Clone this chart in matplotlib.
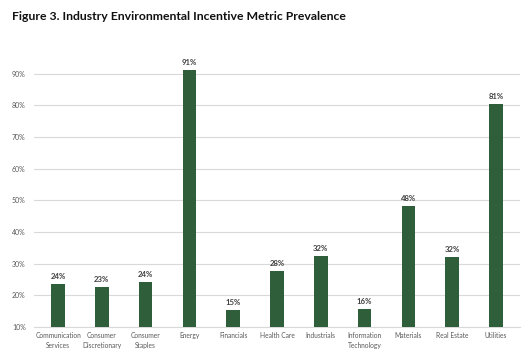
import matplotlib
matplotlib.use("Agg")
import matplotlib.pyplot as plt
import numpy as np
from matplotlib.ticker import PercentFormatter

categories = ["Communication\nServices", "Consumer\nDiscretionary", "Consumer\nStaples", "Energy",
              "Financials", "Health Care", "Industrials", "Information\nTechnology",
              "Materials", "Real Estate", "Utilities"]
values = [0.235, 0.226, 0.243, 0.913, 0.154, 0.277, 0.324, 0.157, 0.483, 0.321, 0.805]
labels = ["24%", "23%", "24%", "91%", "15%", "28%", "32%", "16%", "48%", "32%", "81%"]
yticks = [0.1, 0.2, 0.3, 0.4, 0.5, 0.6, 0.7, 0.8, 0.9]

plt.rcParams['font.family'] = ['Lato', 'DejaVu Sans']

fig = plt.figure(figsize=(5.32, 3.56), dpi=100)
ax = fig.add_axes([34/532, 1-327/356, (520-34)/532, (327-42)/356])

x = np.arange(len(categories))
ax.bar(x, values, width=0.31, color="#2e5e3a", zorder=3)
for xi, v, lab in zip(x, values, labels):
    ax.text(xi, v + 0.012, lab, ha="center", va="bottom", fontsize=5.6,
            fontweight="bold", color="#404040")

ax.set_ylim(0.1, 1.0)
ax.set_xlim(-0.55, len(categories) - 0.45)
ax.set_yticks(yticks)
ax.yaxis.set_major_formatter(PercentFormatter(1.0, decimals=0))
ax.grid(axis="y", color="#d9d9d9", linewidth=0.8, zorder=0)
ax.set_xticks(x)
ax.set_xticklabels(categories, fontsize=4.8, color="#595959", linespacing=1.6)
ax.tick_params(axis="y", labelsize=5, colors="#595959", length=0, pad=6)
ax.tick_params(axis="x", length=0, pad=3.5)
for s in ["top", "right", "left"]:
    ax.spines[s].set_visible(False)
ax.spines["bottom"].set_color("#d9d9d9")
ax.spines["bottom"].set_linewidth(0.8)

fig.text(12/532, 1-17/356, "Figure 3. Industry Environmental Incentive Metric Prevalence",
         fontsize=8.8, fontweight="bold", color="#111111", va="center", ha="left")

fig.savefig("out.png", dpi=100)
